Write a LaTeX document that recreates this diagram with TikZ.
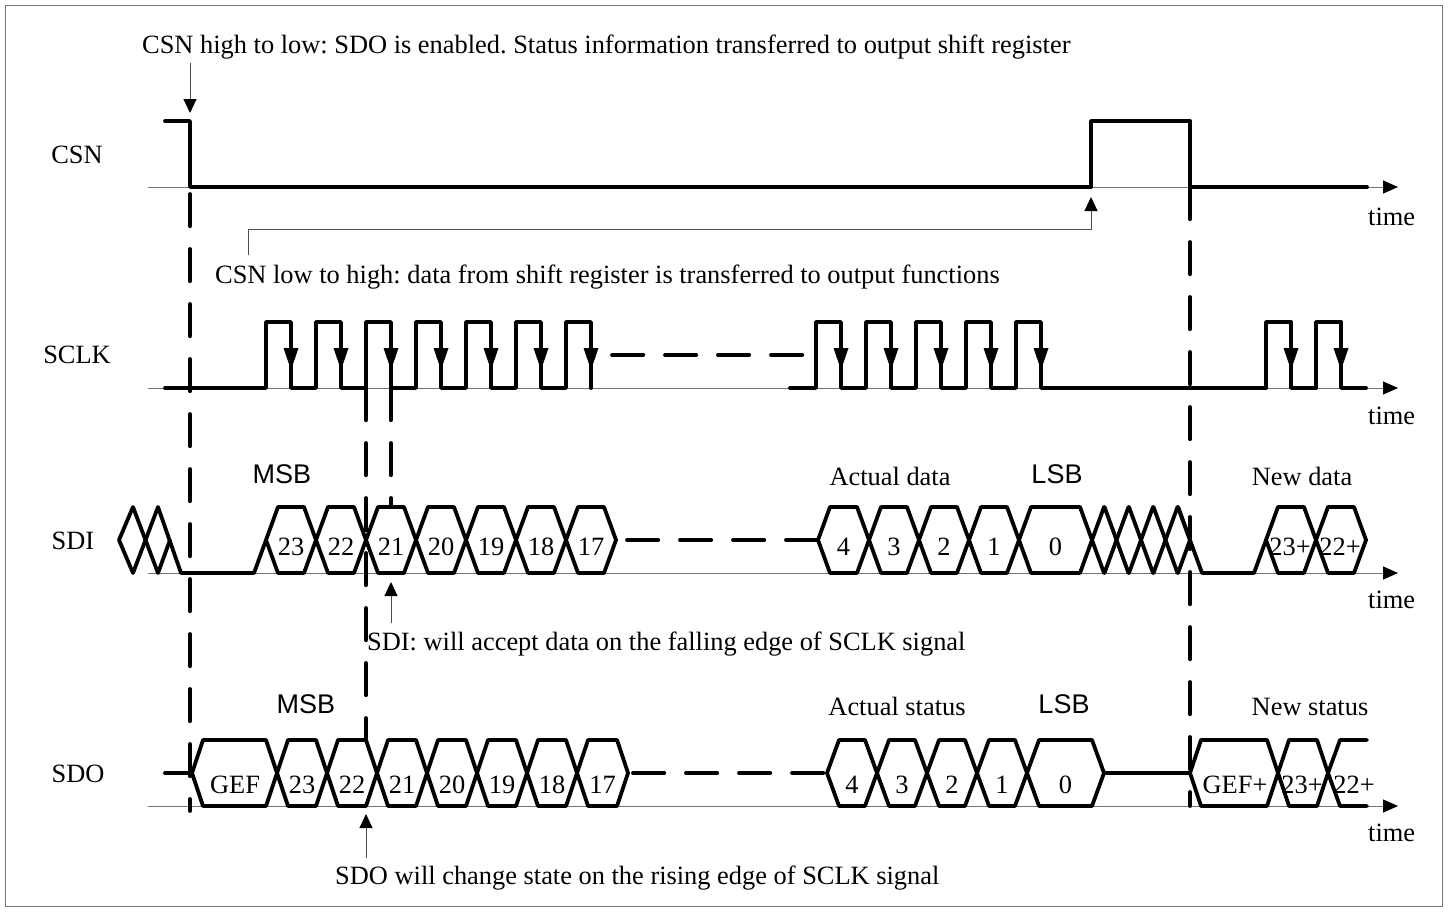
\documentclass[tikz,border=0pt]{standalone}
\usepackage{fontspec}
\setmainfont{Liberation Serif}
\newfontfamily\lsans{Liberation Sans}
\usetikzlibrary{arrows.meta}
\frenchspacing
\newcommand\hexb[5]{%
  \draw[sig] (#1,{(#3+#4)/2}) -- ({#1+#5},#3) -- ({#2-#5},#3) -- (#2,{(#3+#4)/2}) -- ({#2-#5},#4) -- ({#1+#5},#4) -- cycle;}
\begin{document}
\begin{tikzpicture}[x=1pt,y=-1pt,
  sig/.style={line width=3.8pt, line join=round, line cap=round},
  vdash/.style={line width=3.8pt, line cap=round, dash pattern=on 32.2pt off 22.8pt},
  hdash/.style={line width=3.8pt, line cap=round, dash pattern=on 31.2pt off 21.8pt},
  axisl/.style={draw=black!55, line width=1pt, -{Triangle[length=15pt,width=13pt,color=black,fill=black]}},
  ann/.style={draw=black!70, line width=1pt, -{Triangle[length=14pt,width=13pt,color=black,fill=black]}},
  txt/.style={inner sep=0pt, text=black, font=\fontsize{26.4pt}{30pt}\selectfont},
  stxt/.style={inner sep=0pt, text=black, font=\lsans\fontsize{27pt}{30pt}\selectfont},
]
\useasboundingbox (0,0) rectangle (1448,911);
\draw[black!55, line width=1pt] (5,5) rectangle (1442,906);

% axes
\draw[axisl] (148,187) -- (1398,187);
\draw[axisl] (148,388) -- (1398,388);
\draw[axisl] (148,573) -- (1398,573);
\draw[axisl] (148,806) -- (1398,806);

% row labels
\node[txt, anchor=base] (lcsn) at (77,163) {CSN};
\node[txt, anchor=base] (lsclk) at (77,363) {SCLK};
\node[txt, anchor=base] (lsdi) at (73,549) {SDI};
\node[txt, anchor=base] (lsdo) at (78,782) {SDO};
\node[txt, anchor=base west] (tm1) at (1368,225) {time};
\node[txt, anchor=base west] (tm2) at (1368,424) {time};
\node[txt, anchor=base west] (tm3) at (1368,608) {time};
\node[txt, anchor=base west] (tm4) at (1368,841) {time};

% vertical dashed guides
\draw[vdash] (190,194) -- (190,811);
\draw[vdash] (1190,187) -- (1190,806);
\draw[vdash] (366,388) -- (366,738);
\draw[vdash] (391,388) -- (391,505);

% CSN
\draw[sig] (165,121) -- (190,121) -- (190,187) -- (1091,187) -- (1091,121) -- (1190,121) -- (1190,187) -- (1367,187);

% SCLK
\draw[sig] (165,388) foreach \r in {266,316,...,566} { -- (\r,388) -- (\r,322) -- ({\r+25},322) -- ({\r+25},388) };
\draw[sig] (790,388) foreach \r in {816,866,...,1016} { -- (\r,388) -- (\r,322) -- ({\r+25},322) -- ({\r+25},388) }
  -- (1266,388) foreach \r in {1266,1316} { -- (\r,388) -- (\r,322) -- ({\r+25},322) -- ({\r+25},388) } -- (1366,388);
\draw[hdash] (612,355) -- (803,355);
\foreach \f in {291,341,...,591,841,891,...,1041,1291,1341}
  \fill ({\f-7.5},348) -- ({\f+7.5},348) -- (\f,370) -- cycle;

% SDI
\draw[sig] (119,540) -- (133,507) -- (158,573) -- (170,540);
\draw[sig] (119,540) -- (133,573) -- (158,507) -- (181,573) -- (254,573) -- (266,540);
\foreach \a/\b/\t in {266/316/23,316/366/22,366/416/21,416/466/20,466/516/19,516/566/18,566/616/17}{
  \hexb{\a}{\b}{507}{573}{12}
  \node[txt, anchor=base] (sdi\t) at ({(\a+\b)/2},555) {\t};
}
\draw[hdash] (627,540) -- (818,540);
\foreach \a/\b/\t in {818/869/4,869/919/3,919/969/2,969/1019/1,1019/1092/0}{
  \hexb{\a}{\b}{507}{573}{12}
  \node[txt, anchor=base] (sdir\t) at ({(\a+\b)/2},555) {\t};
}
\foreach \a/\b in {1092/1116.5,1116.5/1141,1141/1165.5,1165.5/1190}{
  \hexb{\a}{\b}{507}{573}{12}
}
\draw[sig] (1178,507) -- (1202,573) -- (1254,573) -- (1266,540);
\hexb{1266}{1316}{507}{573}{12}
\hexb{1316}{1366}{507}{573}{12}
\node[txt, anchor=base] (sdin23) at (1290,555) {23+};
\node[txt, anchor=base] (sdin22) at (1340,555) {22+};

\node[stxt, anchor=base] (msb1) at (282,483) {MSB};
\node[stxt, anchor=base] (lsb1) at (1057,483) {LSB};
\node[txt, anchor=base] (act1) at (890,485) {Actual data};
\node[txt, anchor=base] (new1) at (1302,485) {New data};

% SDO
\draw[sig] (165,773) -- (192,773);
\hexb{192}{277}{740}{806}{11}
\node[txt, anchor=base] (sdogef) at (235,793) {GEF};
\foreach \a/\b/\t in {277/327/23,327/377/22,377/427/21,427/477/20,477/527/19,527/577/18,577/628/17}{
  \hexb{\a}{\b}{740}{806}{11}
  \node[txt, anchor=base] (sdo\t) at ({(\a+\b)/2},793) {\t};
}
\draw[hdash] (633,773) -- (826,773);
\foreach \a/\b/\t in {827/877/4,877/927/3,927/977/2,977/1027/1,1027/1104/0}{
  \hexb{\a}{\b}{740}{806}{12}
  \node[txt, anchor=base] (sdor\t) at ({(\a+\b)/2},793) {\t};
}
\draw[sig] (1104,773) -- (1190,773);
\hexb{1190}{1278}{740}{806}{11}
\hexb{1278}{1328}{740}{806}{11}
\draw[sig] (1367,740) -- (1340,740) -- (1328,773) -- (1340,806) -- (1367,806);
\node[txt, anchor=base] (sdongef) at (1235,793) {GEF+};
\node[txt, anchor=base] (sdon23) at (1302,793) {23+};
\node[txt, anchor=base] (sdon22) at (1354,793) {22+};

\node[stxt, anchor=base] (msb2) at (306,713) {MSB};
\node[stxt, anchor=base] (lsb2) at (1064,713) {LSB};
\node[txt, anchor=base] (act2) at (897,715) {Actual status};
\node[txt, anchor=base] (new2) at (1310,715) {New status};

% annotations
\node[txt, anchor=base west] (note1) at (142,53) {CSN high to low: SDO is enabled. Status information transferred to output shift register};
\node[txt, anchor=base west] (note2) at (215,283) {CSN low to high: data from shift register is transferred to output functions};
\node[txt, anchor=base west] (note3) at (367,650) {SDI: will accept data on the falling edge of SCLK signal};
\node[txt, anchor=base west] (note4) at (335,884) {SDO will change state on the rising edge of SCLK signal};

\coordinate (a1s) at (190,63);
\coordinate (a1e) at (190,113);
\coordinate (a2s) at (248,255);
\coordinate (a2k) at (1091,229);
\coordinate (a2e) at (1091,197);
\coordinate (a3s) at (391,623);
\coordinate (a3e) at (391,582);
\coordinate (a4s) at (366,858);
\coordinate (a4e) at (366,814);
\draw[ann] (a1s) -- (a1e);
\draw[ann] (a2s) |- (a2k) -- (a2e);
\draw[ann] (a3s) -- (a3e);
\draw[ann] (a4s) -- (a4e);
\end{tikzpicture}
\end{document}
